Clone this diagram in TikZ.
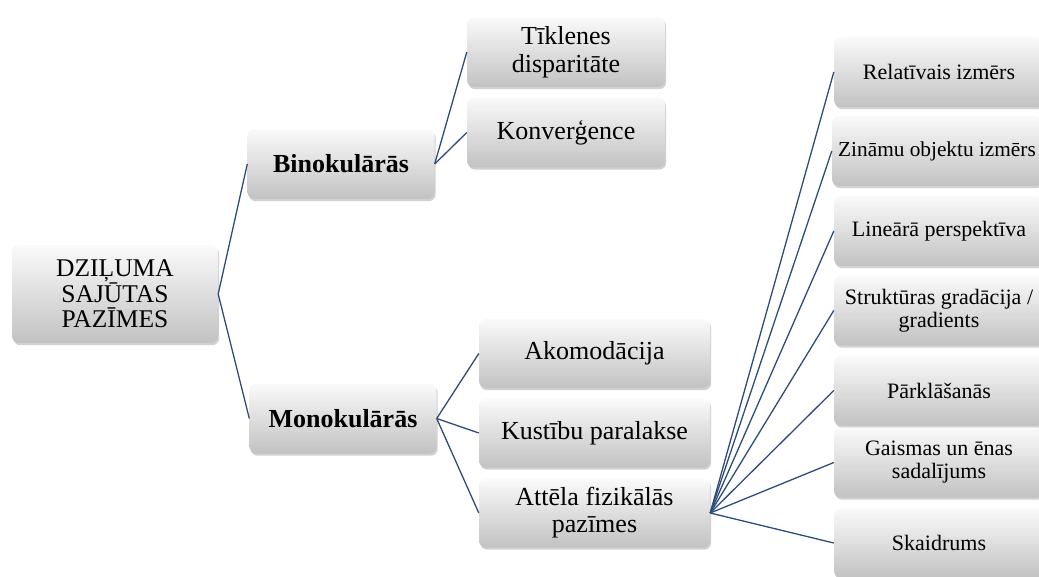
\documentclass[tikz,border=0pt]{standalone}
\usepackage{fontspec}
\setmainfont{Liberation Serif}
\usetikzlibrary{shadows}
\definecolor{linkblue}{RGB}{44,77,122}
\definecolor{boxtop}{RGB}{250,250,250}
\definecolor{boxbot}{RGB}{194,194,194}
\tikzset{
  box/.style={rounded corners=7pt, inner sep=0pt, align=center,
    top color=boxtop, bottom color=boxbot, draw=none,
    drop shadow={shadow xshift=1.2pt, shadow yshift=-2.2pt, opacity=0.3, fill=black!60}},
  rootbox/.style={box, minimum width=206pt, minimum height=98pt, font=\fontsize{25.5}{25.5}\selectfont},
  midbox/.style={box, minimum width=187pt, minimum height=70pt, font=\fontsize{26}{27}\selectfont\bfseries},
  leafbox/.style={box, minimum width=198pt, minimum height=70pt, font=\fontsize{26}{28}\selectfont},
  monobox/.style={box, minimum width=231pt, minimum height=69pt, font=\fontsize{26}{27}\selectfont},
  rightbox/.style={box, minimum width=210pt, minimum height=70pt, font=\fontsize{22}{23}\selectfont},
  link/.style={draw=linkblue, line width=1.3pt}
}
\begin{document}
\begin{tikzpicture}[x=1pt, y=-1pt]
\useasboundingbox (0,0) rectangle (1039,577);
\begin{scope}
\clip (0,0) rectangle (1039,577);
\node[rootbox] (root) at (115,294) {DZIĻUMA\\SAJŪTAS\\PAZĪMES};
\node[midbox] (bino) at (341,164) {Binokulārās};
\node[midbox] (mono) at (343,418.5) {Monokulārās};
\node[leafbox] (tik) at (566,52) {Tīklenes\\disparitāte};
\node[leafbox] (konv) at (566,132.5) {Konverģence};
\node[monobox] (ako) at (594.5,353.5) {Akomodācija};
\node[monobox] (kust) at (594.5,433) {Kustību paralakse};
\node[monobox] (att) at (594.5,513) {Attēla fizikālās\\pazīmes};
\node[rightbox] (r1) at (939,72) {Relatīvais izmērs};
\node[rightbox, font=\fontsize{21.3}{23}\selectfont] (r2) at (937,151) {Zināmu objektu izmērs};
\node[rightbox] (r3) at (939,231) {Lineārā perspektīva};
\node[rightbox] (r4) at (939,310.5) {Struktūras gradācija /\\gradients};
\node[rightbox] (r5) at (939,390.5) {Pārklāšanās};
\node[rightbox] (r6) at (939,462.5) {Gaismas un ēnas\\sadalījums};
\node[rightbox] (r7) at (939,543) {Skaidrums};
\end{scope}
\draw[link] (root.east) -- (bino.west);
\draw[link] (root.east) -- (mono.west);
\draw[link] (bino.east) -- (tik.west);
\draw[link] (bino.east) -- (konv.west);
\draw[link] (mono.east) -- (ako.west);
\draw[link] (mono.east) -- (kust.west);
\draw[link] (mono.east) -- (att.west);
\foreach \r in {r1,r2,r3,r4,r5,r6,r7}{
  \draw[link] (att.east) -- (\r.west);
}
\end{tikzpicture}
\end{document}
